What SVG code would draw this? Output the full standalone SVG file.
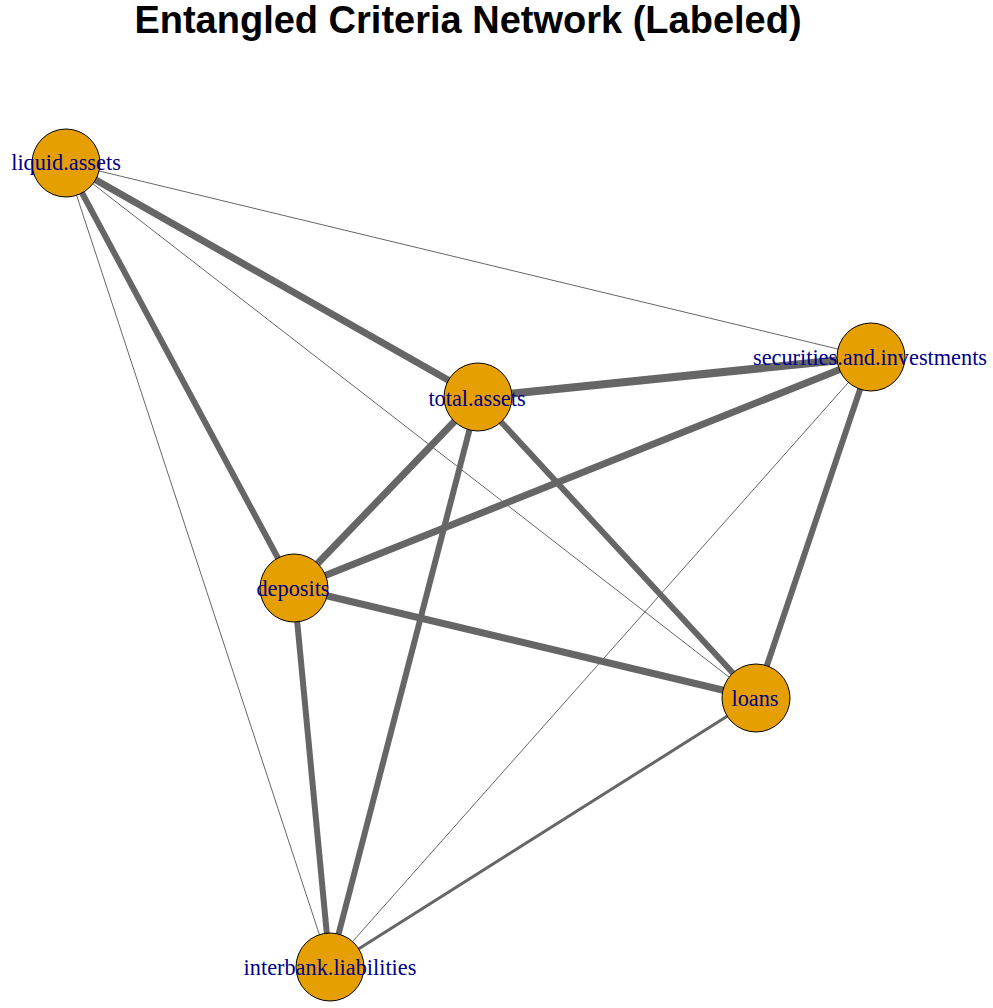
<svg xmlns="http://www.w3.org/2000/svg" width="993" height="1008" viewBox="0 0 993 1008">
<style>
.e{stroke:#666666;stroke-linecap:butt;fill:none}
.n{fill:#E69F00;stroke:#000000;stroke-width:1}
.l{font-family:"Liberation Serif","Times New Roman",serif;font-size:22.3px;fill:#00008B;text-anchor:middle}
.t{font-family:"Liberation Sans",Arial,sans-serif;font-size:38px;font-weight:bold;fill:#000000;text-anchor:middle}
</style>
<rect width="993" height="1008" fill="#ffffff"/>
<text class="t" x="468" y="33">Entangled Criteria Network (Labeled)</text>
<g id="edges">
<line class="e" x1="66" y1="163" x2="871" y2="357" stroke-width="1"/>
<line class="e" x1="66" y1="163" x2="756" y2="698" stroke-width="1"/>
<line class="e" x1="66" y1="163" x2="330" y2="967" stroke-width="1"/>
<line class="e" x1="871" y1="357" x2="330" y2="967" stroke-width="1"/>
<line class="e" x1="756" y1="698" x2="330" y2="967" stroke-width="3"/>
<line class="e" x1="66" y1="163" x2="478" y2="397" stroke-width="7"/>
<line class="e" x1="66" y1="163" x2="294" y2="588" stroke-width="6"/>
<line class="e" x1="478" y1="397" x2="871" y2="357" stroke-width="8"/>
<line class="e" x1="478" y1="397" x2="294" y2="588" stroke-width="7"/>
<line class="e" x1="478" y1="397" x2="330" y2="967" stroke-width="6"/>
<line class="e" x1="478" y1="397" x2="756" y2="698" stroke-width="6"/>
<line class="e" x1="871" y1="357" x2="294" y2="588" stroke-width="7"/>
<line class="e" x1="871" y1="357" x2="756" y2="698" stroke-width="6"/>
<line class="e" x1="294" y1="588" x2="756" y2="698" stroke-width="7"/>
<line class="e" x1="294" y1="588" x2="330" y2="967" stroke-width="6"/>
</g>
<g id="node-liquid-assets">
<circle class="n" cx="66" cy="163" r="34"/>
<text class="l" x="66" y="170">liquid.assets</text>
</g>
<g id="node-total-assets">
<circle class="n" cx="478" cy="397" r="34"/>
<text class="l" x="477" y="406">total.assets</text>
</g>
<g id="node-securities-and-investments">
<circle class="n" cx="871" cy="357" r="34"/>
<text class="l" x="870" y="365">securities.and.investments</text>
</g>
<g id="node-deposits">
<circle class="n" cx="294" cy="588" r="34"/>
<text class="l" x="293" y="596">deposits</text>
</g>
<g id="node-loans">
<circle class="n" cx="756" cy="698" r="34"/>
<text class="l" x="755" y="706">loans</text>
</g>
<g id="node-interbank-liabilities">
<circle class="n" cx="330" cy="967" r="34"/>
<text class="l" x="330" y="975">interbank.liabilities</text>
</g>
</svg>
